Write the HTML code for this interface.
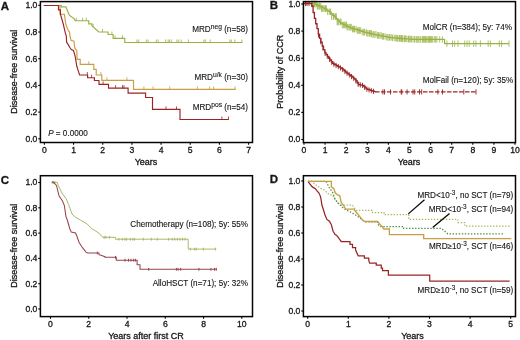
<!DOCTYPE html>
<html><head><meta charset="utf-8"><style>
html,body{margin:0;padding:0;background:#fff;}
svg{display:block;filter:blur(0.3px);}
text{font-family:"Liberation Sans", sans-serif;fill:#161616;stroke:#161616;stroke-width:0.3px;}
</style></head><body>
<svg width="520" height="340" viewBox="0 0 520 340">
<rect width="520" height="340" fill="#fff"/>
<path d="M43.75 5.5 H61.3 V6.8 H65.9 L69.2 15 L70 15.75 L74.4 18.9 L75 20.75 H88.75 V23.9 H91.9 V25.75 L98.75 32 H108.1 V34.5 H113.1 V38.3 H124.8 V42.5 H242.5" fill="none" stroke="#98b244" stroke-width="1.15" stroke-linejoin="miter"/>
<path d="M76.25,21.05V17.75M82.5,21.05V17.75M86.25,21.05V17.75M93.1,27.14V23.84M102.5,32.30V29.00M111.9,34.80V31.50M115,38.60V35.30M122.5,38.60V35.30M136.9,42.80V39.50M138.75,42.80V39.50M146.25,42.80V39.50M148.1,42.80V39.50M156.25,42.80V39.50M158.1,42.80V39.50M165.6,42.80V39.50M168.1,42.80V39.50M169.4,42.80V39.50M171.25,42.80V39.50M176.9,42.80V39.50M178.75,42.80V39.50M181.25,42.80V39.50M188.4,42.80V39.50M203.9,42.80V39.50M205.3,42.80V39.50M210.2,42.80V39.50M229.9,42.80V39.50M231.3,42.80V39.50M234.8,42.80V39.50M241.8,42.80V39.50" stroke="#98b244" stroke-width="0.8" fill="none"/>
<path d="M58.5 5.5 H60 V14.2 H64.4 L65.8 24.3 L67.7 29.2 L69.5 32.3 L70 36 L71 40.3 L74 41.2 L74.4 45.3 L75 48.4 L76.8 50.5 L77.1 59.4 H80.2 V64.3 H93.8 V69.4 H96.2 V75 H101.8 V80.3 H133.5 V89.4 H235.8" fill="none" stroke="#c89e44" stroke-width="1.15" stroke-linejoin="miter"/>
<path d="M88.8,64.60V61.30M100.9,75.30V72.00M106.9,80.60V77.30M126.9,80.60V77.30M143.9,89.70V86.40M153.1,89.70V86.40M169.7,89.70V86.40M197.4,89.70V86.40M209.7,89.70V86.40M213.6,89.70V86.40M235,89.70V86.40" stroke="#c89e44" stroke-width="0.8" fill="none"/>
<path d="M43.75 5.5 H58.5 V9.9 H60.3 L60.6 15 L63 23 L65.2 32.3 L66.3 36 L66.6 42.2 L68.2 44.6 L70 47.7 L71.3 49.6 L73.4 50.5 L74.4 53.3 L75.3 57 L76.8 66.3 L78.6 71.9 L79.6 75 H87.6 V77.7 H94.4 V80.5 H99 V84.4 H108.5 V88.1 H128.1 V93.1 H145.6 V97.5 H152.5 V109.4 H180 V119.5 H228.75" fill="none" stroke="#9a2424" stroke-width="1.15" stroke-linejoin="miter"/>
<path d="M87.3,75.30V72.00M91.6,78.00V74.70M103.1,84.70V81.40M115.6,88.40V85.10M122.5,88.40V85.10M124,88.40V85.10M166,109.70V106.40M176.5,109.70V106.40M221.9,119.80V116.50M228.5,119.80V116.50" stroke="#9a2424" stroke-width="0.8" fill="none"/>
<path d="M304,3.50 H305.60 H307.20 H308.80 H310.40 H312.00 H313.60 V3.77 H315.20 V4.48 H316.80 V5.19 H318.40 V5.92 H320.00 V6.67 H321.60 V7.41 H323.20 V8.16 H324.80 V8.91 H326.40 V9.98 H328.00 V11.10 H329.60 V12.22 H331.20 V13.70 H332.80 V15.30 H334.40 V16.90 H336.00 V18.60 H337.60 V20.36 H339.20 V22.12 H340.80 V23.40 H342.40 V24.20 H344.00 V25.00 H345.60 V25.75 H347.20 V26.41 H348.80 V27.07 H350.40 V27.73 H352.00 V28.39 H353.60 V28.93 H355.20 V29.42 H356.80 V29.91 H358.40 V30.39 H360.00 V30.88 H361.60 V31.37 H363.20 V31.85 H364.80 V32.34 H366.40 V32.71 H368.00 V33.07 H369.60 V33.43 H371.20 V33.79 H372.80 V34.15 H374.40 V34.51 H376.00 V34.86 H377.60 V35.22 H379.20 V35.51 H380.80 V35.81 H382.40 V36.10 H384.00 V36.40 H385.60 V36.69 H387.20 V36.98 H388.80 V37.28 H390.40 V37.54 H392.00 V37.69 H393.60 V37.85 H395.20 V38.00 H396.80 V38.15 H398.40 V38.31 H400.00 V38.46 H401.60 V38.61 H403.20 V38.74 H404.80 V38.83 H406.40 V38.92 H408.00 V39.01 H409.60 V39.10 H411.20 V39.19 H412.80 V39.28 H414.40 V39.37 H416.00 H417.60 H419.20 H420.80 H422.40 H424.00 H425.60 H427.20 H428.80 H430.40 H432.00 H433.60 H435.20 H436.80 H438.40 H440.00 H441.60 H443.20 H444.60 H444.6 V43.7 H509" fill="none" stroke="#98b244" stroke-width="1.2"/>
<path d="M311.50,0.64V7.24M312.45,0.64V7.24M313.20,0.64V7.24M314.52,0.64V7.24M315.18,0.64V7.24M316.37,0.64V7.24M317.36,2.90V9.50M318.01,2.90V9.50M319.16,2.90V9.50M319.78,2.90V9.50M320.86,2.90V9.50M321.51,5.23V11.83M322.19,5.23V11.83M323.25,5.23V11.83M324.78,5.23V11.83M325.50,5.23V11.83M326.33,5.23V11.83M327.63,8.50V15.10M329.29,8.50V15.10M330.53,8.50V15.10M331.56,13.20V19.80M333.26,13.20V19.80M333.89,13.20V19.80M335.45,13.20V19.80M336.36,13.20V19.80M337.10,18.60V25.20M337.81,18.60V25.20M338.74,18.60V25.20M340.25,18.60V25.20M341.03,18.60V25.20M342.28,21.70V28.30M343.59,21.70V28.30M344.59,21.70V28.30M345.80,21.70V28.30M346.44,21.70V28.30M347.09,23.85V30.45M347.90,23.85V30.45M349.26,23.85V30.45M350.32,23.85V30.45M351.26,23.85V30.45M352.51,25.76V32.36M353.60,25.76V32.36M354.52,25.76V32.36M356.01,25.76V32.36M357.39,27.28V33.88M358.25,27.28V33.88M359.48,27.28V33.88M360.66,27.28V33.88M362.24,28.80V35.40M363.66,28.80V35.40M364.56,28.80V35.40M366.27,28.80V35.40M366.98,30.00V36.60M368.03,30.00V36.60M369.48,30.00V36.60M370.23,30.00V36.60M371.36,30.00V36.60M371.98,31.12V37.72M373.33,31.12V37.72M374.78,31.12V37.72M376.02,31.12V37.72M377.60,32.18V38.78M378.53,32.18V38.78M379.91,32.18V38.78M381.17,32.18V38.78M382.41,33.10V39.70M383.51,33.10V39.70M385.05,33.10V39.70M386.71,34.02V40.62M387.83,34.02V40.62M389.17,34.02V40.62M389.81,34.02V40.62M391.20,34.02V40.62M392.52,34.58V41.18M394.23,34.58V41.18M395.75,34.58V41.18M396.66,35.06V41.66M397.67,35.06V41.66M399.02,35.06V41.66M399.62,35.06V41.66M400.72,35.06V41.66M401.49,35.06V41.66M402.20,35.48V42.08M402.85,35.48V42.08M404.30,35.48V42.08M405.03,35.48V42.08M405.89,35.48V42.08M406.91,35.76V42.36M408.49,35.76V42.36M409.16,35.76V42.36M410.25,35.76V42.36M411.46,35.76V42.36M413.05,36.04V42.64M414.56,36.04V42.64M416.13,36.04V42.64M417.03,36.10V42.70M418.08,36.10V42.70M419.07,36.10V42.70M420.66,36.10V42.70M422.34,36.10V42.70M423.08,36.10V42.70M423.86,36.10V42.70M424.70,36.10V42.70M425.55,36.10V42.70M426.68,36.10V42.70M427.93,36.10V42.70M428.81,36.10V42.70M429.39,36.10V42.70M430.45,36.10V42.70M431.45,36.10V42.70M432.67,36.10V42.70M434.34,36.10V42.70M435.71,36.10V42.70M436.88,36.10V42.70" stroke="#98b244" stroke-width="0.8" fill="none"/>
<path d="M439.70,36.20V42.60M442.40,36.20V42.60M446.90,40.50V46.90M452.50,40.50V46.90M454.70,40.50V46.90M458.00,40.50V46.90M464.70,40.50V46.90M467.00,40.50V46.90M469.20,40.50V46.90M473.70,40.50V46.90M475.90,40.50V46.90M480.40,40.50V46.90M488.20,40.50V46.90M490.40,40.50V46.90M499.30,40.50V46.90M501.60,40.50V46.90M509.00,40.50V46.90" stroke="#98b244" stroke-width="0.8" fill="none"/>
<path d="M304,3.50 H305.30 H306.60 H307.90 H309.20 H310.50 H311.80 V6.00 H313.10 V12.50 H314.40 V18.37 H315.70 V23.74 H317.00 V28.53 H318.30 V34.09 H319.60 V38.33 H320.90 V42.27 H322.20 V46.13 H323.50 V49.54 H324.80 V52.84 H326.10 V54.64 H327.40 V56.44 H328.70 V58.25 H330.00 V60.00 H331.30 V61.73 H332.60 V63.47 H333.90 V64.25 H335.20 V64.96 H336.50 V65.67 H337.80 V66.41 H339.10 V67.14 H340.40 V67.88 H341.70 V68.67 H343.00 V69.80 H344.30 V70.92 H345.60 V72.04 H346.90 V73.05 H348.20 V74.03 H349.50 V75.00 H350.80 V76.00 H352.10 V77.04 H353.40 V78.08 H354.70 V79.12 H356.00 V81.02 H357.30 V82.99 H358.60 V84.56 H359.90 V84.83 H361.20 V85.09 H362.50 V85.36 H363.80 V86.50 H365.10 V87.80 H366.40 V88.97 H367.70 V89.41 H369.00 V89.85 H370.30 V90.29 H371.60 V90.73 H372.90 V91.18 H374.20 V91.63 H375.00 V91.90" fill="none" stroke="#9a2424" stroke-width="1.3"/>
<path d="M375,91.9 H475.7" fill="none" stroke="#9a2424" stroke-width="1.2" stroke-dasharray="4.5 1.5"/>
<path d="M305.50,0.90V6.10M307.00,0.90V6.10M309.00,0.90V6.10M318.50,32.40V37.60M320.70,39.06V44.26M322.90,45.37V50.57M325.10,50.65V55.85M327.30,53.70V58.90M329.50,56.73V61.93M331.70,59.67V64.87M333.90,61.65V66.85M336.10,62.85V68.05M338.30,64.09V69.29M340.50,65.33V70.53M342.70,66.94V72.14M344.90,68.84V74.04M347.10,70.60V75.80M349.30,72.25V77.45M351.50,73.96V79.16M353.70,75.72V80.92M355.90,78.27V83.47M358.10,81.60V86.80M360.30,82.31V87.51M362.50,82.76V87.96M364.70,84.80V90.00M366.90,86.54V91.74M369.10,87.28V92.48M371.30,88.03V93.23M373.50,88.79V93.99M382.90,89.30V94.50M384.50,89.30V94.50M390.50,89.30V94.50M401.20,89.30V94.50M401.80,89.30V94.50M407.10,89.30V94.50M413.00,89.30V94.50M414.70,89.30V94.50M419.50,89.30V94.50M421.70,89.30V94.50M437.90,89.30V94.50M442.50,89.30V94.50M463.80,89.30V94.50M476.00,89.30V94.50" stroke="#9a2424" stroke-width="0.9" fill="none"/>
<path d="M51.8 182.3 H57.3 L58.2 185.4 L62.5 194 L66 198.4 L68.6 204.5 L72 214 L74.7 216.6 L80.3 220 L87.2 224 L91.1 228.2 L94.7 230.4 L99.4 233.5 L102.5 237.3 H115.5 V239.2 H188.2 V249.1 H216.3" fill="none" stroke="#a6ba66" stroke-width="1.0" stroke-linejoin="miter"/>
<path d="M52.30,180.90V183.70M53.60,180.90V183.70M54.80,180.90V183.70M104.20,235.90V238.70M105.90,235.90V238.70M109.40,235.90V238.70M118.90,237.80V240.60M122.40,237.80V240.60M125.00,237.80V240.60M126.70,237.80V240.60M130.20,237.80V240.60M132.80,237.80V240.60M134.50,237.80V240.60M143.30,237.80V240.60M151.30,237.80V240.60M157.30,237.80V240.60M168.60,237.80V240.60M172.10,237.80V240.60M174.70,237.80V240.60M177.30,237.80V240.60M179.90,237.80V240.60M182.50,237.80V240.60M185.10,237.80V240.60M190.30,247.70V250.50M194.60,247.70V250.50M196.30,247.70V250.50M203.30,247.70V250.50M215.40,247.70V250.50" stroke="#a6ba66" stroke-width="1.0" fill="none"/>
<path d="M51.8 182.3 H53.5 L56.5 185.4 L59 195.8 L62.5 201 L64.3 205.3 L66 216.6 L67.3 220 L69.8 228.7 L71.3 232.1 L75.6 233 L77.3 237.3 L79.1 242.5 L82.5 247.7 L86 252.1 L87.7 253 H99 V254.7 L101.6 255.5 L105 256.7 V257.3 H116.3 V260.2 H137.1 V264.7 H140 V269.3 H216.3" fill="none" stroke="#96434d" stroke-width="1.05" stroke-linejoin="miter"/>
<path d="M97.30,251.60V254.40M115.50,255.90V258.70M125.00,258.80V261.60M128.50,258.80V261.60M131.00,258.80V261.60M133.70,258.80V261.60M135.40,258.80V261.60M148.70,267.90V270.70M176.40,267.90V270.70M178.10,267.90V270.70M180.70,267.90V270.70M198.90,267.90V270.70M211.00,267.90V270.70M214.50,267.90V270.70M216.30,267.90V270.70" stroke="#96434d" stroke-width="1.0" fill="none"/>
<path d="M308 181.3 L309.8 183.8 L312.3 186.9 L315.4 188.7 L317.2 191.2 L319 193.1 L320.3 196.1 L321 199 L321.9 205 L323.5 210 L325 215 L326.9 219.4 L329.4 221.25 L331.25 224.4 L333.1 231.25 L335 234.4 L336.9 235.6 L338.75 238.1 L340 240 L341.25 241.5 H350 V244.4 H352.5 V247.5 H355.6 V250 L358.2 255.8 H364.4 V258.1 H368.75 V260.6 L369.7 263.1 H376.25 V265 H381.25 V268.1 H382.5 V270.6 H388.4 V275 H429.7 V281.2 H509.6" fill="none" stroke="#9a2424" stroke-width="1.25" stroke-linejoin="miter"/>
<path d="M308 181.3 H312 L314.5 183.8 L320 188 L324.6 190.2 L328.2 193.7 L332.6 195.5 L335.2 199.9 L337.9 202.5 L340.5 205.2 H352.5 L354 207.5 L356.25 210.25 H372.5 V212.5 H384 V214.6 H408.75 V219.4 H457.8 V222.5 H464.8 V226.2 H510.4" fill="none" stroke="#a9b95c" stroke-width="1.25" stroke-dasharray="1.4 1.6" stroke-linejoin="miter"/>
<path d="M308 181.3 H326.1 L329.3 187.7 L332.6 192.2 L335.1 199.3 L338 203 L341 206 L344 208.7 L351.25 212.5 L357.5 216.25 L362.5 220 L365 221.9 H377.5 V223.75 L380 226.5 H403.75 V228.3 H441.5 L447.7 233.8 H503" fill="none" stroke="#4d8d3a" stroke-width="1.25" stroke-dasharray="1.4 1.65" stroke-linejoin="miter"/>
<path d="M308 181.3 H331.4 V186.9 L333.9 188.7 L335.2 192.8 L337.5 195 L339.7 195.5 L341.25 202.5 L344 206 L345.8 209.2 H353.75 L357.5 213.75 L360 216.9 L362.5 220 L365 221.5 H377.5 L379.4 223.75 L382.5 226.9 L383.75 229 H389.4 V234.6 H423.7 V238.7 H511.3" fill="none" stroke="#c89e44" stroke-width="1.3" stroke-linejoin="miter"/>
<path d="M408.3 213.9 L424.5 199.8 M432.7 227.6 L449.5 213.4" stroke="#050505" stroke-width="1.25" fill="none"/>
<rect x="40.4" y="1.6" width="212.1" height="140.9" fill="none" stroke="#050505" stroke-width="1.5"/>
<line x1="38.199999999999996" y1="138.80" x2="40.4" y2="138.80" stroke="#050505" stroke-width="1.1"/>
<text x="37.4" y="141.70" text-anchor="end" font-size="8.6">0.0</text>
<line x1="38.199999999999996" y1="112.10" x2="40.4" y2="112.10" stroke="#050505" stroke-width="1.1"/>
<text x="37.4" y="115.00" text-anchor="end" font-size="8.6">0.2</text>
<line x1="38.199999999999996" y1="85.40" x2="40.4" y2="85.40" stroke="#050505" stroke-width="1.1"/>
<text x="37.4" y="88.30" text-anchor="end" font-size="8.6">0.4</text>
<line x1="38.199999999999996" y1="58.70" x2="40.4" y2="58.70" stroke="#050505" stroke-width="1.1"/>
<text x="37.4" y="61.60" text-anchor="end" font-size="8.6">0.6</text>
<line x1="38.199999999999996" y1="32.00" x2="40.4" y2="32.00" stroke="#050505" stroke-width="1.1"/>
<text x="37.4" y="34.90" text-anchor="end" font-size="8.6">0.8</text>
<line x1="38.199999999999996" y1="5.30" x2="40.4" y2="5.30" stroke="#050505" stroke-width="1.1"/>
<text x="37.4" y="8.20" text-anchor="end" font-size="8.6">1.0</text>
<line x1="44.40" y1="142.5" x2="44.40" y2="144.7" stroke="#050505" stroke-width="1.1"/>
<text x="44.40" y="152.65" text-anchor="middle" font-size="8.6">0</text>
<line x1="73.57" y1="142.5" x2="73.57" y2="144.7" stroke="#050505" stroke-width="1.1"/>
<text x="73.57" y="152.65" text-anchor="middle" font-size="8.6">1</text>
<line x1="102.74" y1="142.5" x2="102.74" y2="144.7" stroke="#050505" stroke-width="1.1"/>
<text x="102.74" y="152.65" text-anchor="middle" font-size="8.6">2</text>
<line x1="131.91" y1="142.5" x2="131.91" y2="144.7" stroke="#050505" stroke-width="1.1"/>
<text x="131.91" y="152.65" text-anchor="middle" font-size="8.6">3</text>
<line x1="161.08" y1="142.5" x2="161.08" y2="144.7" stroke="#050505" stroke-width="1.1"/>
<text x="161.08" y="152.65" text-anchor="middle" font-size="8.6">4</text>
<line x1="190.25" y1="142.5" x2="190.25" y2="144.7" stroke="#050505" stroke-width="1.1"/>
<text x="190.25" y="152.65" text-anchor="middle" font-size="8.6">5</text>
<line x1="219.42" y1="142.5" x2="219.42" y2="144.7" stroke="#050505" stroke-width="1.1"/>
<text x="219.42" y="152.65" text-anchor="middle" font-size="8.6">6</text>
<line x1="248.59" y1="142.5" x2="248.59" y2="144.7" stroke="#050505" stroke-width="1.1"/>
<text x="248.59" y="152.65" text-anchor="middle" font-size="8.6">7</text>
<text x="146" y="164.90" text-anchor="middle" font-size="9">Years</text>
<text transform="translate(16.5,71.7) rotate(-90)" text-anchor="middle" font-size="9">Disease-free survival</text>
<text x="0.7" y="9.7" font-size="11.5" font-weight="bold">A</text>
<rect x="303.4" y="1.6" width="212.10000000000002" height="141.0" fill="none" stroke="#050505" stroke-width="1.5"/>
<line x1="301.2" y1="139.50" x2="303.4" y2="139.50" stroke="#050505" stroke-width="1.1"/>
<text x="300.4" y="142.40" text-anchor="end" font-size="8.6">0.0</text>
<line x1="301.2" y1="112.40" x2="303.4" y2="112.40" stroke="#050505" stroke-width="1.1"/>
<text x="300.4" y="115.30" text-anchor="end" font-size="8.6">0.2</text>
<line x1="301.2" y1="85.30" x2="303.4" y2="85.30" stroke="#050505" stroke-width="1.1"/>
<text x="300.4" y="88.20" text-anchor="end" font-size="8.6">0.4</text>
<line x1="301.2" y1="58.20" x2="303.4" y2="58.20" stroke="#050505" stroke-width="1.1"/>
<text x="300.4" y="61.10" text-anchor="end" font-size="8.6">0.6</text>
<line x1="301.2" y1="31.10" x2="303.4" y2="31.10" stroke="#050505" stroke-width="1.1"/>
<text x="300.4" y="34.00" text-anchor="end" font-size="8.6">0.8</text>
<line x1="301.2" y1="4.00" x2="303.4" y2="4.00" stroke="#050505" stroke-width="1.1"/>
<text x="300.4" y="6.90" text-anchor="end" font-size="8.6">1.0</text>
<line x1="304.00" y1="142.6" x2="304.00" y2="144.79999999999998" stroke="#050505" stroke-width="1.1"/>
<text x="304.00" y="152.75" text-anchor="middle" font-size="8.6">0</text>
<line x1="325.10" y1="142.6" x2="325.10" y2="144.79999999999998" stroke="#050505" stroke-width="1.1"/>
<text x="325.10" y="152.75" text-anchor="middle" font-size="8.6">1</text>
<line x1="346.20" y1="142.6" x2="346.20" y2="144.79999999999998" stroke="#050505" stroke-width="1.1"/>
<text x="346.20" y="152.75" text-anchor="middle" font-size="8.6">2</text>
<line x1="367.30" y1="142.6" x2="367.30" y2="144.79999999999998" stroke="#050505" stroke-width="1.1"/>
<text x="367.30" y="152.75" text-anchor="middle" font-size="8.6">3</text>
<line x1="388.40" y1="142.6" x2="388.40" y2="144.79999999999998" stroke="#050505" stroke-width="1.1"/>
<text x="388.40" y="152.75" text-anchor="middle" font-size="8.6">4</text>
<line x1="409.50" y1="142.6" x2="409.50" y2="144.79999999999998" stroke="#050505" stroke-width="1.1"/>
<text x="409.50" y="152.75" text-anchor="middle" font-size="8.6">5</text>
<line x1="430.60" y1="142.6" x2="430.60" y2="144.79999999999998" stroke="#050505" stroke-width="1.1"/>
<text x="430.60" y="152.75" text-anchor="middle" font-size="8.6">6</text>
<line x1="451.70" y1="142.6" x2="451.70" y2="144.79999999999998" stroke="#050505" stroke-width="1.1"/>
<text x="451.70" y="152.75" text-anchor="middle" font-size="8.6">7</text>
<line x1="472.80" y1="142.6" x2="472.80" y2="144.79999999999998" stroke="#050505" stroke-width="1.1"/>
<text x="472.80" y="152.75" text-anchor="middle" font-size="8.6">8</text>
<line x1="493.90" y1="142.6" x2="493.90" y2="144.79999999999998" stroke="#050505" stroke-width="1.1"/>
<text x="493.90" y="152.75" text-anchor="middle" font-size="8.6">9</text>
<line x1="515.00" y1="142.6" x2="515.00" y2="144.79999999999998" stroke="#050505" stroke-width="1.1"/>
<text x="515.00" y="152.75" text-anchor="middle" font-size="8.6">10</text>
<text x="409" y="165.00" text-anchor="middle" font-size="9">Years</text>
<text transform="translate(282.5,71.8) rotate(-90)" text-anchor="middle" font-size="9">Probability of CCR</text>
<text x="269.7" y="9.0" font-size="11.5" font-weight="bold">B</text>
<rect x="40.4" y="175.7" width="212.1" height="140.90000000000003" fill="none" stroke="#050505" stroke-width="1.5"/>
<line x1="38.199999999999996" y1="309.00" x2="40.4" y2="309.00" stroke="#050505" stroke-width="1.1"/>
<text x="37.4" y="311.90" text-anchor="end" font-size="8.6">0.0</text>
<line x1="38.199999999999996" y1="283.70" x2="40.4" y2="283.70" stroke="#050505" stroke-width="1.1"/>
<text x="37.4" y="286.60" text-anchor="end" font-size="8.6">0.2</text>
<line x1="38.199999999999996" y1="258.40" x2="40.4" y2="258.40" stroke="#050505" stroke-width="1.1"/>
<text x="37.4" y="261.30" text-anchor="end" font-size="8.6">0.4</text>
<line x1="38.199999999999996" y1="233.10" x2="40.4" y2="233.10" stroke="#050505" stroke-width="1.1"/>
<text x="37.4" y="236.00" text-anchor="end" font-size="8.6">0.6</text>
<line x1="38.199999999999996" y1="207.80" x2="40.4" y2="207.80" stroke="#050505" stroke-width="1.1"/>
<text x="37.4" y="210.70" text-anchor="end" font-size="8.6">0.8</text>
<line x1="38.199999999999996" y1="182.50" x2="40.4" y2="182.50" stroke="#050505" stroke-width="1.1"/>
<text x="37.4" y="185.40" text-anchor="end" font-size="8.6">1.0</text>
<line x1="50.50" y1="316.6" x2="50.50" y2="318.8" stroke="#050505" stroke-width="1.1"/>
<text x="50.50" y="326.75" text-anchor="middle" font-size="8.6">0</text>
<line x1="88.76" y1="316.6" x2="88.76" y2="318.8" stroke="#050505" stroke-width="1.1"/>
<text x="88.76" y="326.75" text-anchor="middle" font-size="8.6">2</text>
<line x1="127.02" y1="316.6" x2="127.02" y2="318.8" stroke="#050505" stroke-width="1.1"/>
<text x="127.02" y="326.75" text-anchor="middle" font-size="8.6">4</text>
<line x1="165.28" y1="316.6" x2="165.28" y2="318.8" stroke="#050505" stroke-width="1.1"/>
<text x="165.28" y="326.75" text-anchor="middle" font-size="8.6">6</text>
<line x1="203.54" y1="316.6" x2="203.54" y2="318.8" stroke="#050505" stroke-width="1.1"/>
<text x="203.54" y="326.75" text-anchor="middle" font-size="8.6">8</text>
<line x1="241.80" y1="316.6" x2="241.80" y2="318.8" stroke="#050505" stroke-width="1.1"/>
<text x="241.80" y="326.75" text-anchor="middle" font-size="8.6">10</text>
<text x="146" y="339.00" text-anchor="middle" font-size="9">Years after first CR</text>
<text transform="translate(16.5,245.7) rotate(-90)" text-anchor="middle" font-size="9">Disease-free survival</text>
<text x="0.7" y="184.0" font-size="11.5" font-weight="bold">C</text>
<rect x="303.4" y="175.7" width="212.10000000000002" height="140.90000000000003" fill="none" stroke="#050505" stroke-width="1.5"/>
<line x1="301.2" y1="311.00" x2="303.4" y2="311.00" stroke="#050505" stroke-width="1.1"/>
<text x="300.4" y="313.90" text-anchor="end" font-size="8.6">0.0</text>
<line x1="301.2" y1="285.00" x2="303.4" y2="285.00" stroke="#050505" stroke-width="1.1"/>
<text x="300.4" y="287.90" text-anchor="end" font-size="8.6">0.2</text>
<line x1="301.2" y1="259.00" x2="303.4" y2="259.00" stroke="#050505" stroke-width="1.1"/>
<text x="300.4" y="261.90" text-anchor="end" font-size="8.6">0.4</text>
<line x1="301.2" y1="233.00" x2="303.4" y2="233.00" stroke="#050505" stroke-width="1.1"/>
<text x="300.4" y="235.90" text-anchor="end" font-size="8.6">0.6</text>
<line x1="301.2" y1="207.00" x2="303.4" y2="207.00" stroke="#050505" stroke-width="1.1"/>
<text x="300.4" y="209.90" text-anchor="end" font-size="8.6">0.8</text>
<line x1="301.2" y1="181.00" x2="303.4" y2="181.00" stroke="#050505" stroke-width="1.1"/>
<text x="300.4" y="183.90" text-anchor="end" font-size="8.6">1.0</text>
<line x1="307.70" y1="316.6" x2="307.70" y2="318.8" stroke="#050505" stroke-width="1.1"/>
<text x="307.70" y="326.75" text-anchor="middle" font-size="8.6">0</text>
<line x1="348.30" y1="316.6" x2="348.30" y2="318.8" stroke="#050505" stroke-width="1.1"/>
<text x="348.30" y="326.75" text-anchor="middle" font-size="8.6">1</text>
<line x1="388.90" y1="316.6" x2="388.90" y2="318.8" stroke="#050505" stroke-width="1.1"/>
<text x="388.90" y="326.75" text-anchor="middle" font-size="8.6">2</text>
<line x1="429.50" y1="316.6" x2="429.50" y2="318.8" stroke="#050505" stroke-width="1.1"/>
<text x="429.50" y="326.75" text-anchor="middle" font-size="8.6">3</text>
<line x1="470.10" y1="316.6" x2="470.10" y2="318.8" stroke="#050505" stroke-width="1.1"/>
<text x="470.10" y="326.75" text-anchor="middle" font-size="8.6">4</text>
<line x1="510.70" y1="316.6" x2="510.70" y2="318.8" stroke="#050505" stroke-width="1.1"/>
<text x="510.70" y="326.75" text-anchor="middle" font-size="8.6">5</text>
<text x="412.5" y="339.00" text-anchor="middle" font-size="9">Years</text>
<text transform="translate(282.5,245.7) rotate(-90)" text-anchor="middle" font-size="9">Disease-free survival</text>
<text x="269.7" y="183.4" font-size="11.5" font-weight="bold">D</text>
<text x="247.9" y="31.9" font-size="8.15" text-anchor="end" style="stroke-width:0.12px">MRD<tspan font-size="6.7" dy="-2.7">neg</tspan><tspan dy="2.7"> (n=58)</tspan></text>
<text x="247.9" y="79.7" font-size="8.15" text-anchor="end" style="stroke-width:0.12px">MRD<tspan font-size="6.7" dy="-2.7">u/k</tspan><tspan dy="2.7"> (n=30)</tspan></text>
<text x="248" y="109.9" font-size="8.15" text-anchor="end" style="stroke-width:0.12px">MRD<tspan font-size="6.7" dy="-2.7">pos</tspan><tspan dy="2.7"> (n=54)</tspan></text>
<text x="48.2" y="135.5" font-size="8.15" text-anchor="start" style="stroke-width:0.12px"><tspan font-style="italic">P</tspan> = 0.0000</text>
<text x="422.7" y="30.1" font-size="8.15" text-anchor="start" style="stroke-width:0.12px">MolCR (n=384); 5y: 74%</text>
<text x="422.7" y="82.7" font-size="8.15" text-anchor="start" style="stroke-width:0.12px">MolFail (n=120); 5y: 35%</text>
<text x="248" y="226.6" font-size="8.15" text-anchor="end" style="stroke-width:0.12px">Chemotherapy (n=108); 5y: 55%</text>
<text x="248" y="285.5" font-size="8.15" text-anchor="end" style="stroke-width:0.12px">AlloHSCT (n=71); 5y: 32%</text>
<text x="417.4" y="198" font-size="8.15" text-anchor="start" style="stroke-width:0.12px">MRD&lt;10<tspan font-size="6.4" dy="-2.8">-3</tspan><tspan dy="2.8">, no SCT (n=79)</tspan></text>
<text x="428.7" y="212" font-size="8.15" text-anchor="start" style="stroke-width:0.12px">MRD&lt;10<tspan font-size="6.4" dy="-2.8">-3</tspan><tspan dy="2.8">, SCT (n=94)</tspan></text>
<text x="429.0" y="249" font-size="8.15" text-anchor="start" style="stroke-width:0.12px">MRD≥10<tspan font-size="6.4" dy="-2.8">-3</tspan><tspan dy="2.8">, SCT (n=46)</tspan></text>
<text x="417.6" y="293" font-size="8.15" text-anchor="start" style="stroke-width:0.12px">MRD≥10<tspan font-size="6.4" dy="-2.8">-3</tspan><tspan dy="2.8">, no SCT (n=59)</tspan></text>
</svg>
</body></html>
